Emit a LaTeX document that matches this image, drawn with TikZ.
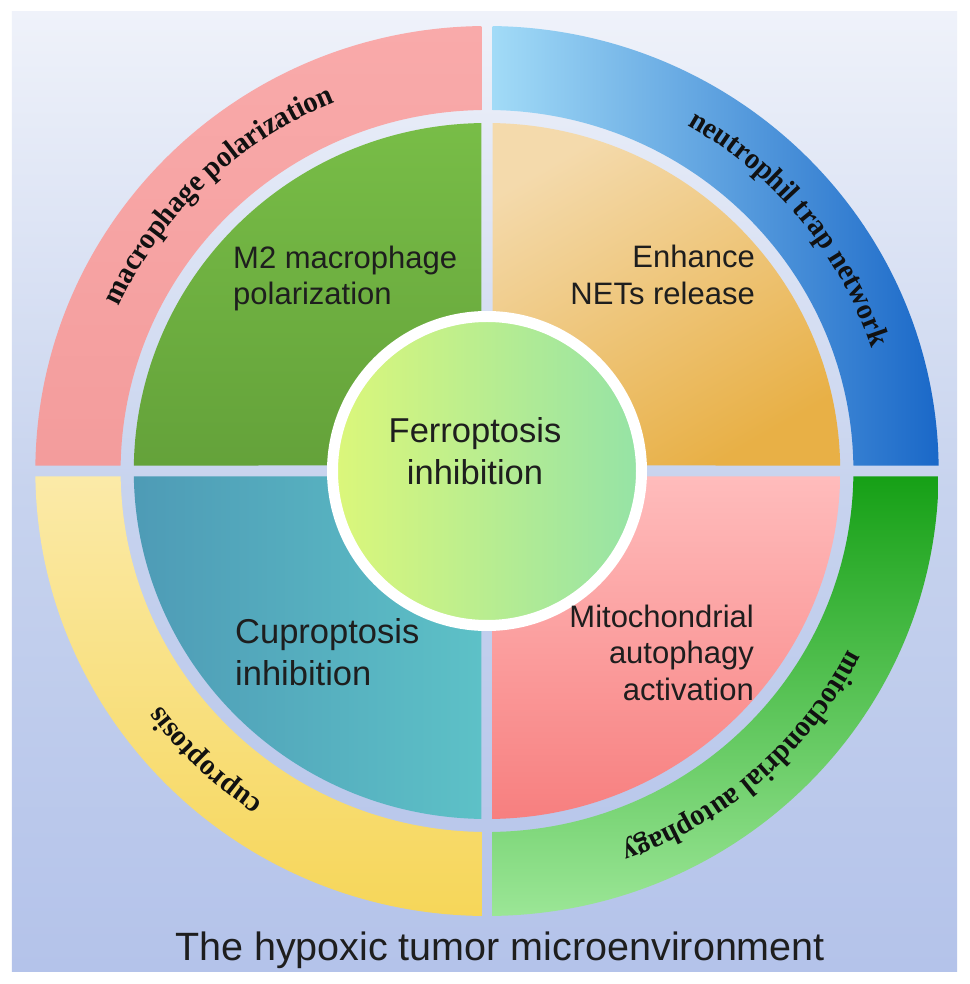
\documentclass[tikz,border=0pt]{standalone}
\usepackage{fontspec}
\setmainfont{Liberation Sans}
\newfontfamily\arcserif{Liberation Serif}[FakeStretch=0.95]
\usetikzlibrary{decorations.text}
\definecolor{bgtop}{HTML}{EFF2FA}
\definecolor{bgmid}{HTML}{C7D3EE}
\definecolor{bgbot}{HTML}{B4C3EA}
\definecolor{txt}{HTML}{1E1E1E}
\definecolor{arctxt}{HTML}{111111}
\newcommand\ringsec[3]{({#1+asin(5.5/#2)}:#2) arc[start angle={#1+asin(5.5/#2)}, end angle={#1+90-asin(5.5/#2)}, radius=#2] -- ({#1+90-asin(5.5/#3)}:#3) arc[start angle={#1+90-asin(5.5/#3)}, end angle={#1+asin(5.5/#3)}, radius=#3] -- cycle}
\newcommand\quadsec[2]{({#1+45}:{5.5*sqrt(2)}) -- ({#1+asin(5.5/#2)}:#2) arc[start angle={#1+asin(5.5/#2)}, end angle={#1+90-asin(5.5/#2)}, radius=#2] -- cycle}
\begin{document}
\begin{tikzpicture}[x=1pt,y=1pt,
  lbl/.style={font=\fontsize{31}{36}\selectfont, text=txt, inner sep=0pt},
  big/.style={font=\fontsize{34.5}{40}\selectfont, text=txt, inner sep=0pt},
  ttlstyle/.style={font=\fontsize{39.5}{44}\selectfont, text=txt, inner sep=0pt},
  arclabel/.style={decorate, decoration={text along path, text align=center, text color=arctxt, text={|\arcserif\bfseries\fontsize{30}{30}\selectfont|#1}}}]
\useasboundingbox (-487,-513) rectangle (482,471);
\fill[white] (-487,-513) rectangle (482,471);
\shade[top color=bgtop, bottom color=bgbot, middle color=bgmid] (-475,-500) rectangle (470,459);
\begin{scope}[xscale=1.015]
  % outer ring
  \shade[top color={rgb,255:red,249;green,170;blue,170}, bottom color={rgb,255:red,243;green,156;blue,156}] \ringsec{90}{445}{361};
  \shade[left color={rgb,255:red,162;green,219;blue,247}, right color={rgb,255:red,26;green,104;blue,200}] \ringsec{0}{445}{361};
  \shade[top color={rgb,255:red,251;green,234;blue,168}, bottom color={rgb,255:red,246;green,214;blue,89}] \ringsec{180}{445}{361};
  \shade[top color={rgb,255:red,22;green,160;blue,22}, bottom color={rgb,255:red,155;green,230;blue,150}] \ringsec{270}{445}{361};
  % inner quadrants
  \shade[top color={rgb,255:red,120;green,189;blue,71}, bottom color={rgb,255:red,100;green,162;blue,58}] \quadsec{90}{348};
  \shade[top color={rgb,255:red,244;green,218;blue,172}, bottom color={rgb,255:red,232;green,176;blue,70}, shading angle=30] \quadsec{0}{348};
  \shade[left color={rgb,255:red,78;green,155;blue,182}, right color={rgb,255:red,93;green,193;blue,199}] \quadsec{180}{348};
  \shade[top color={rgb,255:red,255;green,188;blue,188}, bottom color={rgb,255:red,247;green,127;blue,127}] \quadsec{270}{348};
\end{scope}
% centre
\shade[left color={rgb,255:red,220;green,247;blue,122}, right color={rgb,255:red,149;green,227;blue,166}] (0,0) circle[radius=154.5];
\draw[white, line width=11pt] (0,0) circle[radius=154.5];
% labels
\node[lbl, anchor=base west] (m2a) at (-254,202) {M2 macrophage};
\node[lbl, anchor=base west] (m2b) at (-254,166) {polarization};
\node[lbl, anchor=base east] (ena) at (268,203) {Enhance};
\node[lbl, anchor=base east] (enb) at (268,166) {NETs release};
\node[big, anchor=base] (fea) at (-12,28) {Ferroptosis};
\node[big, anchor=base] (feb) at (-12,-14) {inhibition};
\node[big, anchor=base west] (cua) at (-252,-172) {Cuproptosis};
\node[big, anchor=base west] (cub) at (-252,-214) {inhibition};
\node[lbl, anchor=base east] (mia) at (267,-157) {Mitochondrial};
\node[lbl, anchor=base east] (mib) at (267,-192) {autophagy};
\node[lbl, anchor=base east] (mic) at (267,-229) {activation};
\node[ttlstyle, anchor=base] (ttl) at (13,-489) {The hypoxic tumor microenvironment};
% curved labels
\path[arclabel={macrophage polarization}] (179:404 and 398) arc[start angle=179, end angle=89, x radius=404, y radius=398];
\path[arclabel={neutrophil trap network}] (84:404 and 398) arc[start angle=84, end angle=-6, x radius=404, y radius=398];
\path[arclabel={mitochondrial autophagy}] (-3.5:404 and 398) arc[start angle=-3.5, end angle=-93.5, x radius=404, y radius=398];
\path[arclabel={cuproptosis}] (-89:404 and 398) arc[start angle=-89, end angle=-179, x radius=404, y radius=398];
\end{tikzpicture}
\end{document}
